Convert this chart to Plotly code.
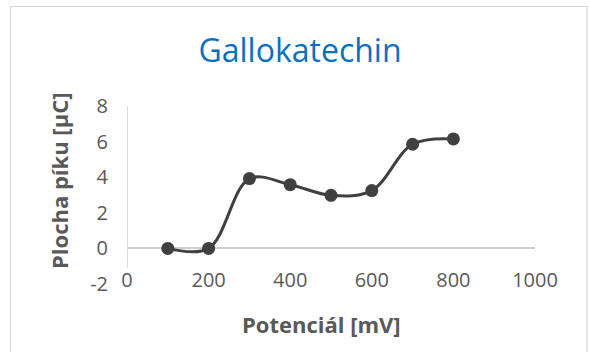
import plotly.graph_objects as go

potential_mv = [100, 200, 300, 400, 500, 600, 700, 800]
peak_area_uc = [0.0, 0.0, 3.92, 3.58, 2.98, 3.25, 5.85, 6.15]
x_ticks = [0, 200, 400, 600, 800, 1000]
y_ticks = [-2, 0, 2, 4, 6, 8]

title_text = "Gallokatechin"
x_title = "Potenciál [mV]"
y_title = "Plocha píku [µC]"

W, H = 590, 352
L, R, T, B = 127, 55, 106, 68
pw, ph = W - L - R, H - T - B

def px_x(p):
    return (p - L) / pw

def px_y(p):
    return (H - B - p) / ph

tick_font = dict(family="Open Sans", size=20, color="#595959")
axis_col = "#CFCFCF"

fig = go.Figure()
fig.add_trace(go.Scatter(
    x=potential_mv, y=peak_area_uc, mode="lines+markers",
    line=dict(color="#404040", width=3, shape="spline", smoothing=1.0),
    marker=dict(color="#404040", size=13),
    showlegend=False, hoverinfo="skip",
))

fig.update_layout(
    width=W, height=H,
    margin=dict(l=L, r=R, t=T, b=B),
    paper_bgcolor="white", plot_bgcolor="white",
    title=dict(text=title_text, x=300 / W, xanchor="center",
               y=1 - 51 / H, yanchor="middle", yref="container",
               font=dict(family="Open Sans", size=32, color="#0B6FC0")),
    xaxis=dict(range=[0, 1000], tickvals=x_ticks, ticktext=[str(v) for v in x_ticks],
               showgrid=False, zeroline=False, showline=False,
               anchor="free", position=px_y(266), tickfont=tick_font, ticks=""),
    yaxis=dict(range=[-2, 8], tickvals=y_ticks, ticktext=[str(v) if v >= 0 else "-" + str(-v) for v in y_ticks],
               showgrid=False, zeroline=True, zerolinecolor=axis_col, zerolinewidth=1.5,
               showline=False, tickfont=tick_font, ticks="", ticklabelstandoff=18),
)

# y axis line
fig.add_shape(type="line", xref="x", x0=0, x1=0, yref="paper",
              y0=px_y(268), y1=1, line=dict(color=axis_col, width=1.5), layer="below")
# chart border
fig.add_shape(type="rect", xref="paper", yref="paper",
              x0=px_x(10.5), x1=px_x(587), y0=px_y(370), y1=px_y(6.5),
              line=dict(color="#D9D9D9", width=1.2), layer="below")

fig.add_annotation(text="<b>" + x_title + "</b>", xref="paper", yref="paper",
                   x=px_x(321), y=px_y(324), xanchor="center", yanchor="middle",
                   showarrow=False, font=dict(family="Open Sans", size=22, color="#595959"))
fig.add_annotation(text="<b>" + y_title + "</b>", xref="paper", yref="paper",
                   x=px_x(59), y=px_y(181), xanchor="center", yanchor="middle",
                   textangle=-90, showarrow=False,
                   font=dict(family="Open Sans", size=22, color="#595959"))

fig.write_html("out.html")
